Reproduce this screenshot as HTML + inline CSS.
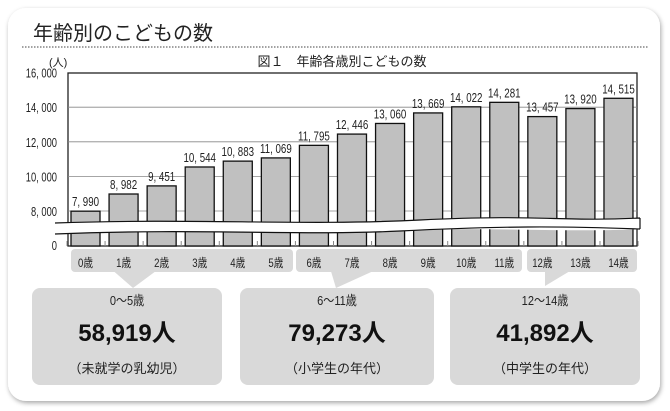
<!DOCTYPE html>
<html><head><meta charset="utf-8">
<style>
body{margin:0;background:#fff;width:670px;height:411px;overflow:hidden}
svg{display:block}
text{font-family:"Liberation Sans","Noto Sans CJK JP",sans-serif}
</style></head><body>
<svg id="s" width="670" height="411" xmlns="http://www.w3.org/2000/svg">
<defs><filter id="sh" x="-5%" y="-5%" width="110%" height="110%"><feDropShadow dx="1" dy="2" stdDeviation="2.5" flood-color="#000" flood-opacity="0.35"/></filter></defs>
<rect x="8" y="8" width="652" height="393" rx="18" fill="#fff" filter="url(#sh)"/>
<text x="33" y="40" font-size="20" fill="#222">年齢別のこどもの数</text>
<line x1="22" y1="47" x2="648" y2="47" stroke="#444" stroke-dasharray="1.5,1.5"/>
<text x="342" y="66" font-size="13" text-anchor="middle" fill="#222">図１　年齢各歳別こどもの数</text>
<text x="49" y="66" font-size="11" fill="#222">(人)</text>
<g id="g"></g>
</svg>
<script>
const g=document.getElementById('g');let h='';
const L=68,R=637,T=73,B=246;
const y=v=>211-(v-8000)/2000*34.6;
const tx=(x,yy,t,fs,anc,sx)=>`<text transform="translate(${x},${yy}) scale(${sx},1)" font-size="${fs}" text-anchor="${anc}" fill="#222">${t}</text>`;
h+=`<rect x="${L}" y="${T}" width="${R-L}" height="${B-T}" fill="#fff" stroke="#222" stroke-width="1.3"/>`;
[[16000,'16, 000'],[14000,'14, 000'],[12000,'12, 000'],[10000,'10, 000'],[8000,'8, 000']].forEach(([v,t])=>{
 const yy=y(v);if(v<16000)h+=`<line x1="${L}" x2="${R}" y1="${yy}" y2="${yy}" stroke="#888" stroke-width="0.8"/>`;
 h+=tx(57,yy+5,t,13,'end',0.72);});
h+=tx(57,B+4,'0',13,'end',0.72);
const vals=[7990,8982,9451,10544,10883,11069,11795,12446,13060,13669,14022,14281,13457,13920,14515];
const sl=38.07;
for(let i=0;i<=15;i++){const x=L+i*sl-1;h+=`<line x1="${x}" x2="${x}" y1="${B-5}" y2="${B}" stroke="#888"/>`;}
vals.forEach((v,i)=>{const x=71+i*sl,yy=y(v);
 h+=`<rect x="${x}" y="${yy}" width="29" height="${B-yy}" fill="#c0c0c0" stroke="#111" stroke-width="1.3"/>`;
 h+=tx(x+14.5,yy-5,v.toLocaleString('en-US').replace(',',', '),13,'middle',0.75);});
h+=`<path d="M55 223 C200 218 300 226 420 220 S560 222 640 218 L640 229 C560 233 480 226 400 231 S200 228 55 234 Z" fill="#fff" stroke="none"/>`;
h+=`<path d="M55 223 C200 218 300 226 420 220 S560 222 640 218 M55 234 C200 228 300 236 400 231 S560 226 640 229 M640 218 L640 229" fill="none" stroke="#111" stroke-width="1.2"/>`;
h+=`<path d="M110 268 L133 288 L160 268 Z" fill="#d9d9d9"/>`;
h+=`<path d="M330 268 L336 288 L380 268 Z" fill="#d9d9d9"/>`;
h+=`<path d="M545 268 L545 286 L575 268 Z" fill="#d9d9d9"/>`;
h+=`<rect x="71" y="249" width="222" height="23" rx="4" fill="#d9d9d9"/>`;
h+=`<rect x="296" y="249" width="226" height="23" rx="4" fill="#d9d9d9"/>`;
h+=`<rect x="527" y="249" width="110" height="23" rx="4" fill="#d9d9d9"/>`;
vals.forEach((v,i)=>{h+=tx(71+i*sl+14.5,267,i+'歳',12,'middle',0.8);});
[[32,222,'0～5歳','58,919人','（未就学の乳幼児）'],[240,434,'6～11歳','79,273人','（小学生の年代）'],[450,640,'12～14歳','41,892人','（中学生の年代）']].forEach(([a,b,t1,t2,t3])=>{
 const c=(a+b)/2;h+=`<rect x="${a}" y="288" width="${b-a}" height="97" rx="8" fill="#d9d9d9"/>`;
 h+=tx(c,305,t1,13,'middle',0.85);
 h+=`<text x="${c}" y="341" font-size="24" font-weight="bold" text-anchor="middle" fill="#111">${t2}</text>`;
 h+=`<text x="${c}" y="373" font-size="13" text-anchor="middle" fill="#222">${t3}</text>`;});
g.innerHTML=h;
</script>
</body></html>
